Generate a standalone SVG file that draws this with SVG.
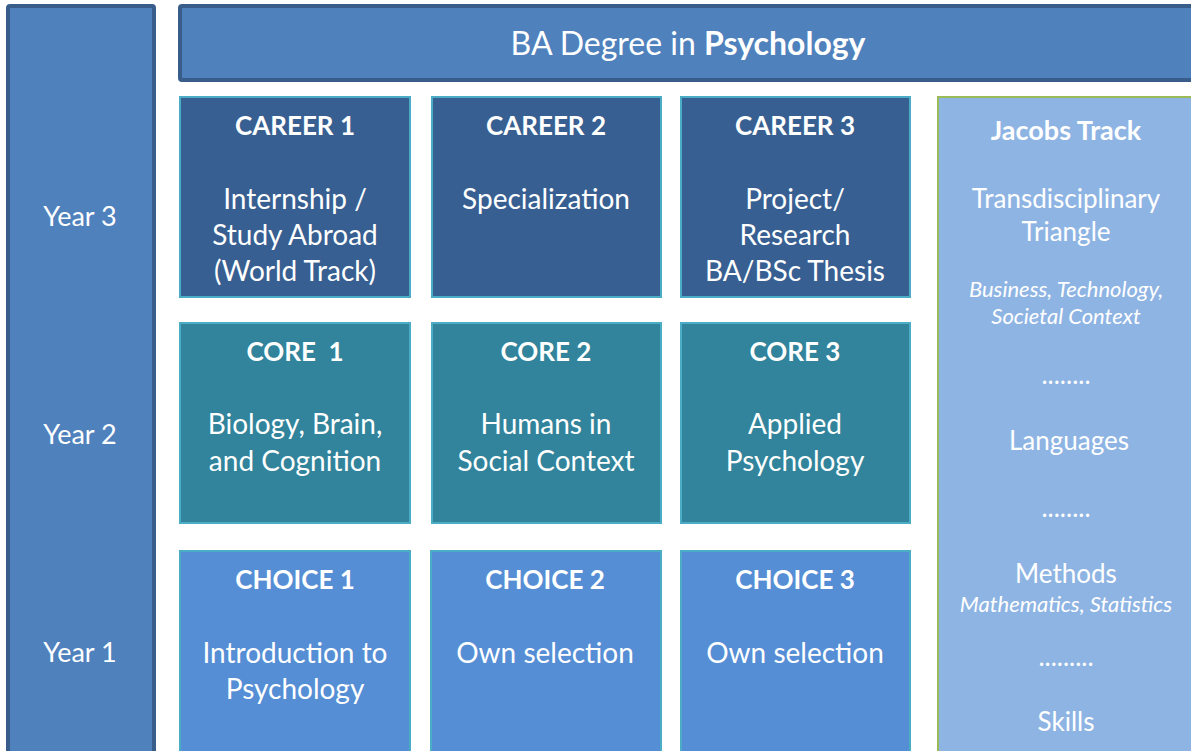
<svg xmlns="http://www.w3.org/2000/svg" width="1191" height="751" viewBox="0 0 1191 751">
<style>
text{font-family:Lato,"Open Sans","Liberation Sans",sans-serif;fill:#fff;text-anchor:middle}
.yr{font-size:27px}
.hd{font-size:26px;font-weight:bold}
.bd{font-size:28px}
.car{fill:#375F92;stroke:#4BACC6;stroke-width:2}
.cor{fill:#31849B;stroke:#4BACC6;stroke-width:2}
.cho{fill:#558ED5;stroke:#4BACC6;stroke-width:2}
.it{font-size:22px;font-style:italic}
.jb{font-size:26px}
</style>
<rect width="1191" height="751" fill="#fff"/>
<g id="years">
<rect x="8" y="6" width="146" height="760" rx="2" fill="#4F81BD" stroke="#385D8A" stroke-width="4"/>
<text class="yr" x="80" y="226">Year 3</text>
<text class="yr" x="80" y="444">Year 2</text>
<text class="yr" x="80" y="662">Year 1</text>
</g>
<g id="title">
<rect x="180" y="6" width="1030" height="74" rx="2" fill="#4F81BD" stroke="#385D8A" stroke-width="4"/>
<text x="688" y="55" style="font-size:32px">BA Degree in <tspan font-weight="bold">Psychology</tspan></text>
</g>
<g id="career1">
<rect class="car" x="180" y="97" width="230" height="200"/>
<text class="hd" x="295" y="135">CAREER 1</text>
<text class="bd" x="295" y="209">Internship /</text>
<text class="bd" x="295" y="245">Study Abroad</text>
<text class="bd" x="295" y="281">(World Track)</text>
</g>
<g id="career2">
<rect class="car" x="432" y="97" width="229" height="200"/>
<text class="hd" x="546" y="135">CAREER 2</text>
<text class="bd" x="546" y="209">Specialization</text>
</g>
<g id="career3">
<rect class="car" x="681" y="97" width="229" height="200"/>
<text class="hd" x="795" y="135">CAREER 3</text>
<text class="bd" x="795" y="209">Project/</text>
<text class="bd" x="795" y="245">Research</text>
<text class="bd" x="795" y="281">BA/BSc Thesis</text>
</g>
<g id="core1">
<rect class="cor" x="180" y="323" width="230" height="200"/>
<text class="hd" x="295" y="361" xml:space="preserve">CORE  1</text>
<text class="bd" x="295" y="434">Biology, Brain,</text>
<text class="bd" x="295" y="471">and Cognition</text>
</g>
<g id="core2">
<rect class="cor" x="432" y="323" width="229" height="200"/>
<text class="hd" x="546" y="361">CORE 2</text>
<text class="bd" x="546" y="434">Humans in</text>
<text class="bd" x="546" y="471">Social Context</text>
</g>
<g id="core3">
<rect class="cor" x="681" y="323" width="229" height="200"/>
<text class="hd" x="795" y="361">CORE 3</text>
<text class="bd" x="795" y="434">Applied</text>
<text class="bd" x="795" y="471">Psychology</text>
</g>
<g id="choice1">
<rect class="cho" x="180" y="551" width="230" height="215"/>
<text class="hd" x="295" y="589">CHOICE 1</text>
<text class="bd" x="295" y="663">Introduction to</text>
<text class="bd" x="295" y="699">Psychology</text>
</g>
<g id="choice2">
<rect class="cho" x="431" y="551" width="230" height="215"/>
<text class="hd" x="545" y="589">CHOICE 2</text>
<text class="bd" x="545" y="663">Own selection</text>
</g>
<g id="choice3">
<rect class="cho" x="681" y="551" width="229" height="215"/>
<text class="hd" x="795" y="589">CHOICE 3</text>
<text class="bd" x="795" y="663">Own selection</text>
</g>
<g id="jacobs">
<rect x="938" y="97" width="270" height="670" fill="#8EB4E3" stroke="#9BBB59" stroke-width="2"/>
<text x="1066" y="140" style="font-size:27px;font-weight:bold">Jacobs Track</text>
<text class="jb" x="1066" y="208">Transdisciplinary</text>
<text class="jb" x="1066" y="241">Triangle</text>
<text class="it" x="1066" y="297">Business, Technology,</text>
<text class="it" x="1066" y="324">Societal Context</text>
<text class="jb" x="1066" y="384">........</text>
<text class="jb" x="1069" y="450">Languages</text>
<text class="jb" x="1066" y="517">........</text>
<text class="jb" x="1066" y="583">Methods</text>
<text class="it" x="1066" y="612">Mathematics, Statistics</text>
<text class="jb" x="1066" y="666">.........</text>
<text class="jb" x="1066" y="731">Skills</text>
</g>
</svg>
